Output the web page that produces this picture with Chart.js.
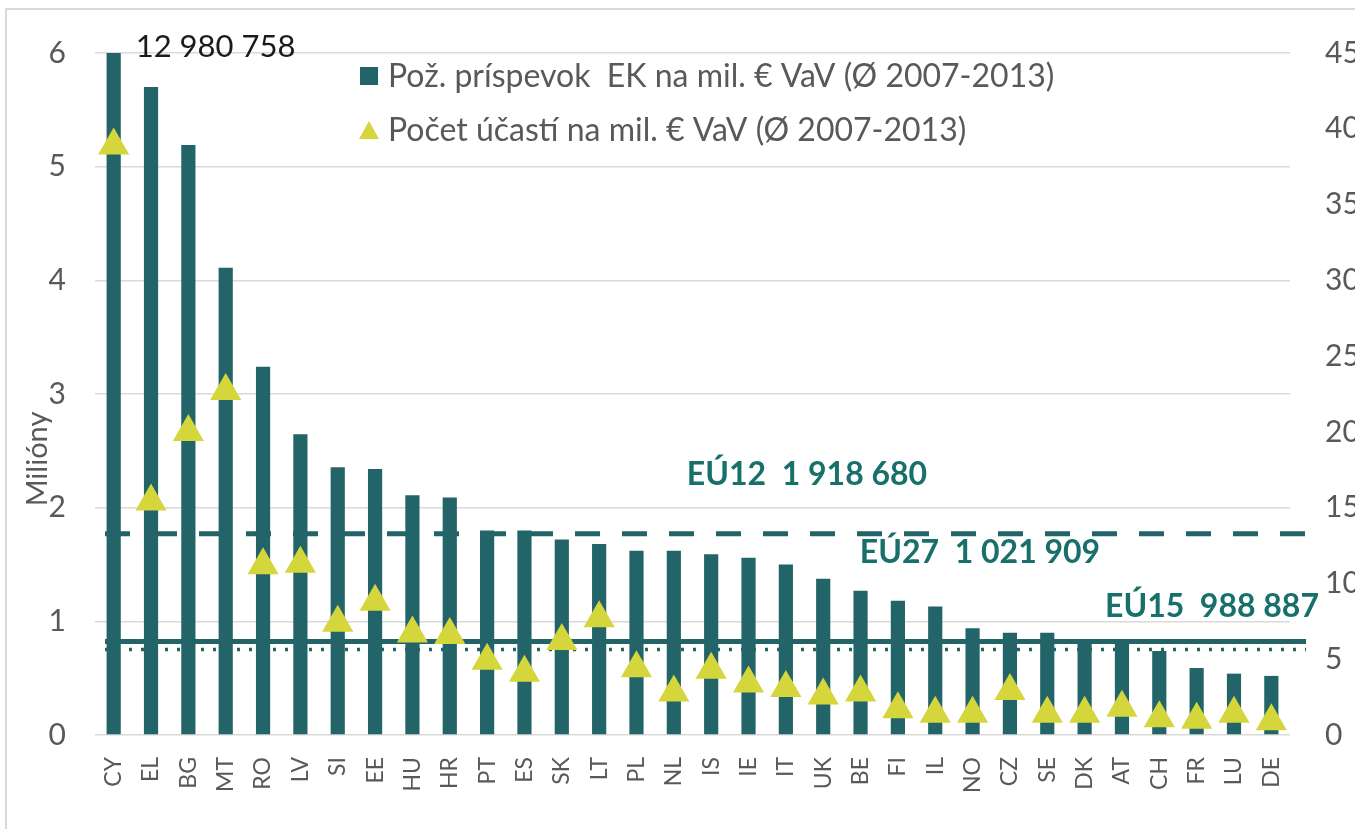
<!DOCTYPE html>
<html>
<head>
<meta charset="utf-8">
<script src="https://cdn.jsdelivr.net/npm/chart.js@4.4.1/dist/chart.umd.min.js"></script>
<style>
  html, body { margin: 0; padding: 0; background: #fff; overflow: hidden; }
  #frame { position: absolute; left: 5px; top: 8px; width: 1400px; height: 900px; border: 2px solid #d9d9d9; }
  #wrap { position: absolute; left: 0; top: 0; width: 1355px; height: 829px; }
</style>
</head>
<body>
<div id="frame"></div>
<div id="wrap"><canvas id="chart" width="1355" height="829"></canvas></div>
<script>
// countries
const countries = ['CY', 'EL', 'BG', 'MT', 'RO', 'LV', 'SI', 'EE', 'HU', 'HR', 'PT', 'ES', 'SK', 'LT', 'PL', 'NL',
  'IS', 'IE', 'IT', 'UK', 'BE', 'FI', 'IL', 'NO', 'CZ', 'SE', 'DK', 'AT', 'CH', 'FR', 'LU', 'DE'];

// requested EC contribution per mil. € R&D (millions), CY goes off the scale
const contribution = [12.980758, 5.70, 5.19, 4.11, 3.24, 2.645, 2.356, 2.34, 2.11, 2.09, 1.80, 1.80, 1.72, 1.68, 1.62, 1.62,
  1.59, 1.56, 1.50, 1.375, 1.27, 1.18, 1.13, 0.94, 0.90, 0.90, 0.80, 0.80, 0.74, 0.59, 0.54, 0.52];

// number of participations per mil. € R&D (right axis)
const participations = [38.9, 15.4, 20.0, 22.7, 11.2, 11.3, 7.4, 8.8, 6.7, 6.6, 4.9, 4.1, 6.2, 7.7, 4.4, 2.8,
  4.3, 3.4, 3.1, 2.6, 2.8, 1.7, 1.4, 1.4, 2.9, 1.4, 1.4, 1.8, 1.1, 1.0, 1.4, 0.9];

// group averages, drawn as horizontal lines
const avgNames = ['EÚ12', 'EÚ27', 'EÚ15'];
const avgTexts = ['1 918 680', '1 021 909', '988 887'];
const avgLines = [1.77, 0.762, 0.823];

const cyLabel = '12 980 758';
const seriesNames = ['Pož. príspevok  EK na mil. € VaV (Ø 2007-2013)', 'Počet účastí na mil. € VaV (Ø 2007-2013)'];

const TEAL = '#236469';
const YELLOW = '#d4d63c';
const LABEL_TEAL = '#17706a';
const GRAY = '#595959';
const FONT = 'Lato, "Open Sans", sans-serif';

// draws the average lines right after the bars, before the triangles
const avgLinePlugin = {
  id: 'avgLines',
  afterDatasetDraw(chart, args) {
    if (args.index !== 0) return;
    const { ctx, chartArea, scales } = chart;
    const styles = [
      { width: 5, dash: [25, 22] },
      { width: 3.5, dash: [3, 9] },
      { width: 5, dash: [] }
    ];
    ctx.save();
    avgLines.forEach((v, i) => {
      const y = scales.y.getPixelForValue(v) + (i === 1 ? 1 : 0);
      ctx.beginPath();
      ctx.strokeStyle = TEAL;
      ctx.lineWidth = styles[i].width;
      ctx.setLineDash(styles[i].dash);
      ctx.moveTo(chartArea.left + 10, y);
      ctx.lineTo(chartArea.right + 16, y);
      ctx.stroke();
    });
    ctx.restore();
  }
};

// texts: legend, annotations, axis title
const textPlugin = {
  id: 'texts',
  afterDraw(chart) {
    const { ctx, chartArea, scales } = chart;
    ctx.save();
    ctx.textBaseline = 'middle';

    // CY value above the clipped bar
    ctx.fillStyle = '#1a1a1a';
    ctx.font = '31px ' + FONT;
    ctx.textAlign = 'left';
    ctx.fillText(cyLabel, scales.x.getPixelForValue(0) + 22, chartArea.top - 6);

    // average labels
    ctx.fillStyle = LABEL_TEAL;
    ctx.font = 'bold 32px ' + FONT;
    ctx.textAlign = 'center';
    const pos = [[807, 475], [980, 553], [1212, 607]];
    avgNames.forEach((n, i) => {
      ctx.fillText(n + '  ' + avgTexts[i], pos[i][0], pos[i][1]);
    });

    // legend
    ctx.textAlign = 'left';
    ctx.font = '32px ' + FONT;
    ctx.fillStyle = TEAL;
    ctx.fillRect(360, 67, 18, 18);
    ctx.fillStyle = YELLOW;
    ctx.beginPath();
    ctx.moveTo(369, 121);
    ctx.lineTo(379, 139);
    ctx.lineTo(359, 139);
    ctx.closePath();
    ctx.fill();
    ctx.fillStyle = GRAY;
    ctx.fillText(seriesNames[0], 388, 77);
    ctx.fillText(seriesNames[1], 388, 131);

    // left axis title
    ctx.translate(38, 459);
    ctx.rotate(-Math.PI / 2);
    ctx.textAlign = 'center';
    ctx.font = '29px ' + FONT;
    ctx.fillText('Milióny', 0, 0);
    ctx.restore();
  }
};

new Chart(document.getElementById('chart'), {
  data: {
    labels: countries,
    datasets: [
      {
        type: 'bar',
        label: seriesNames[0],
        data: contribution,
        backgroundColor: TEAL,
        categoryPercentage: 1,
        barPercentage: 0.38,
        yAxisID: 'y',
        order: 2
      },
      {
        type: 'line',
        label: seriesNames[1],
        data: participations,
        showLine: false,
        pointStyle: 'triangle',
        pointRadius: 18,
        pointHoverRadius: 18,
        pointBackgroundColor: YELLOW,
        pointBorderWidth: 0,
        yAxisID: 'y2',
        order: 0,
        clip: false
      }
    ]
  },
  options: {
    responsive: false,
    animation: false,
    devicePixelRatio: 1,
    layout: { padding: { top: 50, left: 0, right: 0, bottom: 0 } },
    plugins: {
      legend: { display: false },
      tooltip: { enabled: false }
    },
    scales: {
      x: {
        grid: { display: false },
        border: { display: false },
        ticks: {
          minRotation: 90,
          maxRotation: 90,
          padding: 14,
          color: GRAY,
          font: { family: FONT, size: 23 }
        },
        afterFit(scale) { scale.height = 94; }
      },
      y: {
        position: 'left',
        min: 0,
        max: 6,
        ticks: {
          stepSize: 1,
          padding: 29,
          color: GRAY,
          font: { family: FONT, size: 30 }
        },
        grid: { color: '#d9d9d9', lineWidth: 1.5, drawTicks: false },
        border: { display: false },
        afterFit(scale) { scale.width = 95; }
      },
      y2: {
        position: 'right',
        min: 0,
        max: 45,
        ticks: {
          stepSize: 5,
          padding: 35,
          color: GRAY,
          font: { family: FONT, size: 30 }
        },
        grid: { drawOnChartArea: false, drawTicks: false },
        border: { display: false },
        afterFit(scale) { scale.width = 65; }
      }
    }
  },
  plugins: [avgLinePlugin, textPlugin]
});
</script>
</body>
</html>
